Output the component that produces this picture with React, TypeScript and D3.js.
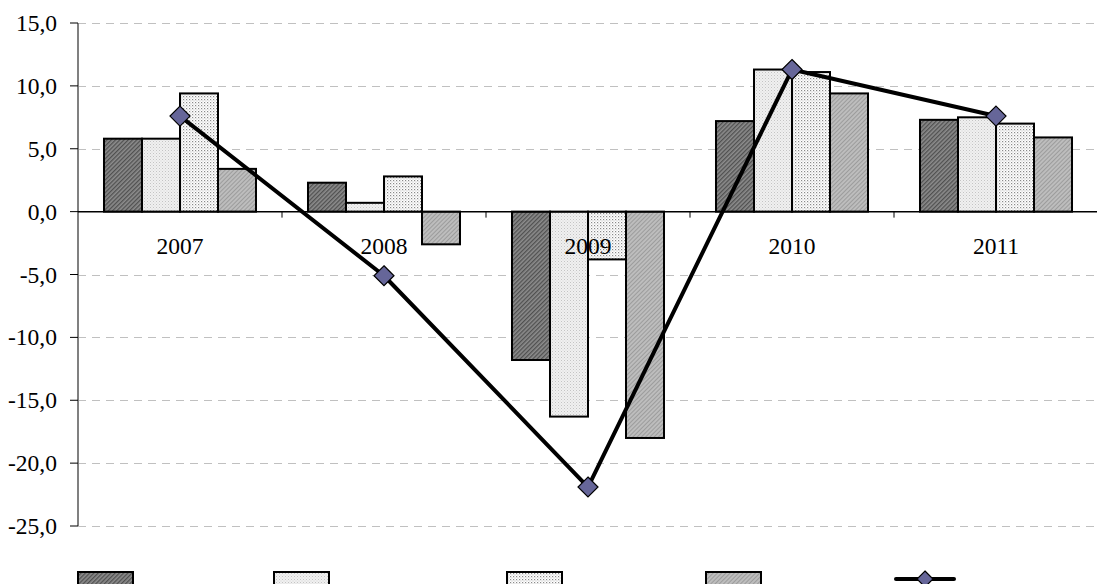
import React from "react";
import * as d3 from "d3";

const years = ["2007", "2008", "2009", "2010", "2011"];
const seriesNames = ["s1", "s2", "s3", "s4"];
const series1 = [5.8, 2.3, -11.8, 7.2, 7.3];
const series2 = [5.8, 0.7, -16.3, 11.3, 7.5];
const series3 = [9.4, 2.8, -3.8, 11.1, 7.0];
const series4 = [3.4, -2.6, -18.0, 9.4, 5.9];
const lineValues = [7.6, -5.1, -21.9, 11.3, 7.6];
const yTicks = [15, 10, 5, 0, -5, -10, -15, -20, -25];

const W = 1097;
const H = 584;
const left = 78;
const right = 1098;
const top = 23;
const bottom = 526;

const FONT = "'Liberation Serif', 'Times New Roman', serif";

export default function App() {
  const barSeries = [series1, series2, series3, series4];
  const fills = ["url(#p1)", "url(#p2)", "url(#p3)", "url(#p4)"];
  const y = d3.scaleLinear().domain([-25, 15]).range([bottom, top]);
  const x0 = d3.scaleBand().domain(years).range([left, right]).paddingInner(0).paddingOuter(0);
  const x1 = d3
    .scaleBand()
    .domain(seriesNames)
    .range([0, x0.bandwidth()])
    .paddingInner(0)
    .paddingOuter(0.684);
  const fmt = (v: number) => v.toFixed(1).replace(".", ",");
  const line = d3
    .line<number>()
    .x((_, i) => (x0(years[i]) as number) + x0.bandwidth() / 2)
    .y((v) => y(v));
  const diamond = (cx: number, cy: number, r: number) =>
    `M${cx},${cy - r}L${cx + r},${cy}L${cx},${cy + r}L${cx - r},${cy}Z`;

  const legendX = [78, 274, 507, 706];
  const legendLine = { x1: 896, x2: 954, cy: 579 };

  return (
    <svg
      width={W}
      height={H}
      style={{ position: "absolute", left: 0, top: 0, display: "block" }}
      fontFamily={FONT}
    >
      <defs>
        <pattern id="p1" width="3" height="3" patternUnits="userSpaceOnUse" patternTransform="rotate(45)">
          <rect width="3" height="3" fill="#8c8c8c" />
          <rect width="1.3" height="3" fill="#505050" />
        </pattern>
        <pattern id="p2" width="3" height="3" patternUnits="userSpaceOnUse">
          <rect width="3" height="3" fill="#f0f0f0" />
          <rect x="0" y="0" width="1" height="1" fill="#c4c4c4" />
          <rect x="1.5" y="1.5" width="1" height="1" fill="#d4d4d4" />
        </pattern>
        <pattern id="p3" width="3" height="3" patternUnits="userSpaceOnUse">
          <rect width="3" height="3" fill="#ffffff" />
          <rect x="0" y="0" width="1.2" height="1.2" fill="#8a8a8a" />
          <rect x="1.5" y="1.5" width="1" height="1" fill="#b0b0b0" />
        </pattern>
        <pattern id="p4" width="3" height="3" patternUnits="userSpaceOnUse" patternTransform="rotate(45)">
          <rect width="3" height="3" fill="#bdbdbd" />
          <rect width="1" height="3" fill="#9c9c9c" />
        </pattern>
      </defs>

      {/* gridlines */}
      {yTicks
        .filter((t) => t !== 0)
        .map((t) => (
          <line
            key={"g" + t}
            x1={left}
            x2={W}
            y1={Math.round(y(t)) + 0.5}
            y2={Math.round(y(t)) + 0.5}
            stroke="#c0c0c0"
            strokeWidth={1}
            strokeDasharray="8,6"
          />
        ))}

      {/* bars */}
      {barSeries.map((vals, si) =>
        vals.map((v, i) => {
          const bx = (x0(years[i]) as number) + (x1(seriesNames[si]) as number);
          const y0 = y(0);
          const yv = y(v);
          return (
            <rect
              key={`b${si}-${i}`}
              x={bx}
              y={Math.min(y0, yv)}
              width={x1.bandwidth()}
              height={Math.abs(yv - y0)}
              fill={fills[si]}
              stroke="#000"
              strokeWidth={2}
            />
          );
        })
      )}

      {/* y axis */}
      <line x1={left} x2={left} y1={top} y2={bottom} stroke="#808080" strokeWidth={2} />
      {yTicks.map((t) => (
        <g key={"t" + t}>
          <line x1={left - 8} x2={left} y1={y(t)} y2={y(t)} stroke="#000" strokeWidth={1} />
          <text
            x={57}
            y={y(t)}
            textAnchor="end"
            dominantBaseline="central"
            fontSize={23.5}
            fill="#000"
          >
            {fmt(t)}
          </text>
        </g>
      ))}

      {/* x axis at zero */}
      <line x1={left} x2={right} y1={y(0)} y2={y(0)} stroke="#000" strokeWidth={1.5} />
      {years.map((yr, i) => (
        <g key={"x" + yr}>
          {i > 0 && (
            <line
              x1={x0(yr) as number}
              x2={x0(yr) as number}
              y1={y(0)}
              y2={y(0) + 6}
              stroke="#000"
              strokeWidth={1}
            />
          )}
          <text
            x={(x0(yr) as number) + x0.bandwidth() / 2}
            y={254}
            textAnchor="middle"
            fontSize={23.5}
            fill="#000"
          >
            {yr}
          </text>
        </g>
      ))}

      {/* line series */}
      <path d={line(lineValues) || ""} fill="none" stroke="#000" strokeWidth={4} strokeLinejoin="round" />
      {lineValues.map((v, i) => (
        <path
          key={"d" + i}
          d={diamond((x0(years[i]) as number) + x0.bandwidth() / 2, y(v), 10)}
          fill="#666699"
          stroke="#000"
          strokeWidth={1.2}
        />
      ))}

      {/* legend */}
      {legendX.map((lx, i) => (
        <rect
          key={"l" + i}
          x={lx}
          y={572}
          width={55}
          height={20}
          fill={fills[i]}
          stroke="#000"
          strokeWidth={2}
        />
      ))}
      <line
        x1={legendLine.x1}
        x2={legendLine.x2}
        y1={legendLine.cy}
        y2={legendLine.cy}
        stroke="#000"
        strokeWidth={4}
        strokeLinecap="round"
      />
      <path
        d={diamond((legendLine.x1 + legendLine.x2) / 2, legendLine.cy, 8)}
        fill="#666699"
        stroke="#000"
        strokeWidth={1.2}
      />
    </svg>
  );
}
